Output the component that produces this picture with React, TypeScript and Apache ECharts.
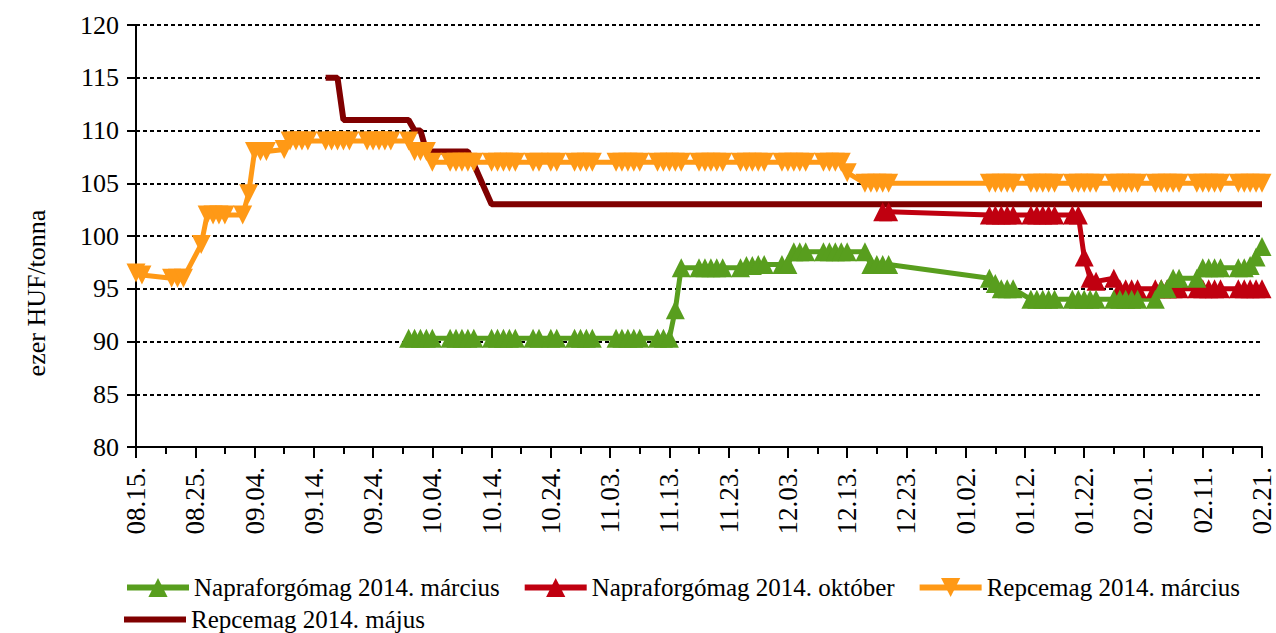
import React, { useEffect, useRef } from "react";
import * as echarts from "echarts";

// Trading days (2013-08-15 .. 2014-02-21), one row per week
const tradingDays: string[] = [
  "08.15", "08.16",
  "08.21", "08.22", "08.23",
  "08.26", "08.27", "08.28", "08.29", "08.30",
  "09.02", "09.03", "09.04", "09.05", "09.06",
  "09.09", "09.10", "09.11", "09.12", "09.13",
  "09.16", "09.17", "09.18", "09.19", "09.20",
  "09.23", "09.24", "09.25", "09.26", "09.27",
  "09.30", "10.01", "10.02", "10.03", "10.04",
  "10.07", "10.08", "10.09", "10.10", "10.11",
  "10.14", "10.15", "10.16", "10.17", "10.18",
  "10.21", "10.22", "10.24", "10.25",
  "10.28", "10.29", "10.30", "10.31",
  "11.04", "11.05", "11.06", "11.07", "11.08",
  "11.11", "11.12", "11.13", "11.14", "11.15",
  "11.18", "11.19", "11.20", "11.21", "11.22",
  "11.25", "11.26", "11.27", "11.28", "11.29",
  "12.02", "12.03", "12.04", "12.05", "12.06",
  "12.09", "12.10", "12.11", "12.12", "12.13",
  "12.16", "12.17", "12.18", "12.19", "12.20",
  "01.06", "01.07", "01.08", "01.09", "01.10",
  "01.13", "01.14", "01.15", "01.16", "01.17",
  "01.20", "01.21", "01.22", "01.23", "01.24",
  "01.27", "01.28", "01.29", "01.30", "01.31",
  "02.03", "02.04", "02.05", "02.06", "02.07",
  "02.10", "02.11", "02.12", "02.13", "02.14",
  "02.17", "02.18", "02.19", "02.20", "02.21",
];

const xTickLabels: string[] = [
  "08.15.", "08.25.", "09.04.", "09.14.", "09.24.", "10.04.", "10.14.",
  "10.24.", "11.03.", "11.13.", "11.23.", "12.03.", "12.13.", "12.23.",
  "01.02.", "01.12.", "01.22.", "02.01.", "02.11.", "02.21.",
];

const N = null;

const napraMarcius: (number | null)[] = [
  N, N,
  N, N, N,
  N, N, N, N, N,
  N, N, N, N, N,
  N, N, N, N, N,
  N, N, N, N, N,
  N, N, N, N, N,
  90.3, 90.3, 90.3, 90.3, 90.3,
  90.3, 90.3, 90.3, 90.3, 90.3,
  90.3, 90.3, 90.3, 90.3, 90.3,
  90.3, 90.3, 90.3, 90.3,
  90.3, 90.3, 90.3, 90.3,
  90.3, 90.3, 90.3, 90.3, 90.3,
  90.3, 90.3, 90.3, 93, 97,
  97, 97, 97, 97, 97,
  97, 97.2, 97.2, 97.3, 97.3,
  97.3, 97.3, 98.5, 98.5, 98.5,
  98.5, 98.5, 98.5, 98.5, 98.5,
  98.5, 97.3, 97.3, 97.3, 97.3,
  96, 95.5, 95, 95, 95,
  94, 94, 94, 94, 94,
  94, 94, 94, 94, 94,
  94, 94, 94, 94, 94,
  94, 95, 95, 96, 96,
  96, 97, 97, 97, 97,
  97, 97, 97.2, 98, 99,
];

const napraOktober: (number | null)[] = [
  N, N,
  N, N, N,
  N, N, N, N, N,
  N, N, N, N, N,
  N, N, N, N, N,
  N, N, N, N, N,
  N, N, N, N, N,
  N, N, N, N, N,
  N, N, N, N, N,
  N, N, N, N, N,
  N, N, N, N,
  N, N, N, N,
  N, N, N, N, N,
  N, N, N, N, N,
  N, N, N, N, N,
  N, N, N, N, N,
  N, N, N, N, N,
  N, N, N, N, N,
  N, N, N, 102.3, 102.3,
  102, 102, 102, 102, 102,
  102, 102, 102, 102, 102,
  102, 102, 98, 96, 95.7,
  96, 95, 95, 95, 95,
  95, 95, 95, 95, 95,
  95, 95, 95, 95, 95,
  95, 95, 95, 95, 95,
];

const repceMarcius: (number | null)[] = [
  96.5, 96.3,
  96, 96, 96,
  99.2, 102, 102, 102, 102,
  102, 104, 108, 108, 108,
  108.2, 109, 109, 109, 109,
  109, 109, 109, 109, 109,
  109, 109, 109, 109, 109,
  109, 108, 108, 108, 107,
  107, 107, 107, 107, 107,
  107, 107, 107, 107, 107,
  107, 107, 107, 107,
  107, 107, 107, 107,
  107, 107, 107, 107, 107,
  107, 107, 107, 107, 107,
  107, 107, 107, 107, 107,
  107, 107, 107, 107, 107,
  107, 107, 107, 107, 107,
  107, 107, 107, 107, 106,
  105, 105, 105, 105, 105,
  105, 105, 105, 105, 105,
  105, 105, 105, 105, 105,
  105, 105, 105, 105, 105,
  105, 105, 105, 105, 105,
  105, 105, 105, 105, 105,
  105, 105, 105, 105, 105,
  105, 105, 105, 105, 105,
];

const repceMajus: (number | null)[] = [
  N, N,
  N, N, N,
  N, N, N, N, N,
  N, N, N, N, N,
  N, N, N, N, N,
  115, 115, 115, 111, 111,
  111, 111, 111, 111, 111,
  111, 110, 110, 108, 108,
  108, 108, 108, 108, 106.8,
  103, 103, 103, 103, 103,
  103, 103, 103, 103,
  103, 103, 103, 103,
  103, 103, 103, 103, 103,
  103, 103, 103, 103, 103,
  103, 103, 103, 103, 103,
  103, 103, 103, 103, 103,
  103, 103, 103, 103, 103,
  103, 103, 103, 103, 103,
  103, 103, 103, 103, 103,
  103, 103, 103, 103, 103,
  103, 103, 103, 103, 103,
  103, 103, 103, 103, 103,
  103, 103, 103, 103, 103,
  103, 103, 103, 103, 103,
  103, 103, 103, 103, 103,
  103, 103, 103, 103, 103,
];

const NAME_NM = "Napraforgómag 2014. március";
const NAME_NO = "Napraforgómag 2014. október";
const NAME_RM = "Repcemag 2014. március";
const NAME_RJ = "Repcemag 2014. május";

const FONT = "'Liberation Serif', 'Times New Roman', serif";

function dayOffset(md: string): number {
  const [m, d] = md.split(".").map(Number);
  const year = m >= 8 ? 2013 : 2014;
  return Math.round((Date.UTC(year, m - 1, d) - Date.UTC(2013, 7, 15)) / 86400000);
}

function toPairs(values: (number | null)[]) {
  const out: [number, number][] = [];
  tradingDays.forEach((md, i) => {
    const v = values[i];
    if (v != null) out.push([dayOffset(md), v]);
  });
  return out;
}

export default function App() {
  const ref = useRef<HTMLDivElement>(null);

  useEffect(() => {
    if (!ref.current) return;
    const chart = echarts.init(ref.current, undefined, { renderer: "svg" });

    const lineSeries = (
      name: string,
      data: (number | null)[],
      color: string,
      symbol: string,
      rotate: number,
      width: number
    ) => ({
      name,
      type: "line",
      data: toPairs(data),
      symbol,
      symbolSize: [19, 19],
      symbolRotate: rotate,
      showSymbol: symbol !== "none",
      clip: false,
      lineStyle: { color, width },
      itemStyle: { color, borderWidth: 0 },
      emphasis: { disabled: true },
    });

    const legendText = { fontSize: 25, fontFamily: FONT, color: "#000" };

    chart.setOption({
      animation: false,
      textStyle: { fontFamily: FONT },
      grid: { left: 136, top: 25, width: 1126, height: 422, containLabel: false },
      xAxis: {
        type: "value",
        min: 0,
        max: 190,
        interval: 10,
        axisLine: { show: true, onZero: false, lineStyle: { color: "#000", width: 2 } },
        axisTick: { show: true, inside: false, length: 11, lineStyle: { color: "#000", width: 2 } },
        minorTick: { show: true, splitNumber: 2, length: 7, lineStyle: { color: "#000", width: 2 } },
        splitLine: { show: false },
        axisLabel: {
          rotate: 90,
          margin: 20,
          fontSize: 27,
          fontFamily: FONT,
          color: "#000",
          formatter: (v: number) => xTickLabels[Math.round(v / 10)] ?? "",
        },
      },
      yAxis: {
        type: "value",
        min: 80,
        max: 120,
        interval: 5,
        axisLine: { show: true, lineStyle: { color: "#000", width: 2 } },
        axisTick: { show: true, inside: false, length: 9, lineStyle: { color: "#000", width: 2 } },
        splitLine: { show: true, lineStyle: { color: "#000", width: 2, type: [4, 3] } },
        axisLabel: { margin: 17, fontSize: 26, fontFamily: FONT, color: "#000" },
      },
      legend: [
        {
          data: [NAME_NM, NAME_NO, NAME_RM],
          left: 124,
          top: 575,
          padding: 0,
          orient: "horizontal",
          itemWidth: 62,
          itemHeight: 24,
          itemGap: 22,
          lineStyle: { width: 6 },
          textStyle: legendText,
          selectedMode: false,
        },
        {
          data: [{ name: NAME_RJ, icon: "rect" }],
          left: 124,
          top: 607,
          padding: 0,
          itemWidth: 62,
          itemHeight: 6,
          textStyle: legendText,
          selectedMode: false,
        },
      ],
      graphic: [
        {
          type: "text",
          x: 36,
          y: 293,
          rotation: Math.PI / 2,
          style: {
            text: "ezer HUF/tonna",
            fontSize: 26,
            fontFamily: FONT,
            fill: "#000",
            align: "center",
            verticalAlign: "middle",
          },
        },
      ],
      series: [
        lineSeries(NAME_RM, repceMarcius, "#FF9916", "triangle", 180, 5),
        lineSeries(NAME_RJ, repceMajus, "#800000", "none", 0, 6),
        lineSeries(NAME_NO, napraOktober, "#C00010", "triangle", 0, 5),
        lineSeries(NAME_NM, napraMarcius, "#589E1E", "triangle", 0, 5),
      ],
    });

    return () => chart.dispose();
  }, []);

  return (
    <div
      ref={ref}
      style={{ position: "fixed", left: 0, top: 0, width: 1276, height: 633, background: "#fff" }}
    />
  );
}
